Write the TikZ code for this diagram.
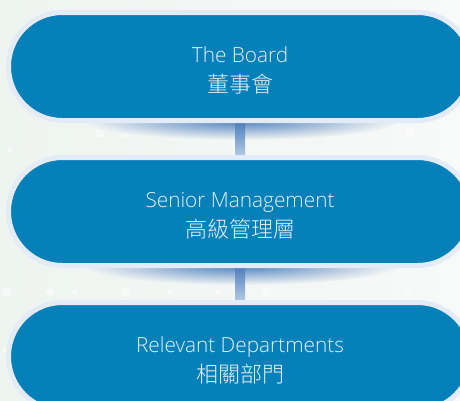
\documentclass[tikz,border=0pt]{standalone}
\usepackage{fontspec}
\setmainfont{Open Sans}[UprightFont=* Light]
\newfontfamily\cjkfont{Noto Sans CJK TC}[UprightFont=* Light]
\usetikzlibrary{calc}

\definecolor{pillblue}{HTML}{0580B9}
\definecolor{pillrim}{HTML}{E3ECF6}
\definecolor{bgtint}{HTML}{EEF4F0}
\definecolor{bgwhite}{HTML}{F8F9F9}
\definecolor{linktop}{HTML}{4F7FBD}
\definecolor{linkbot}{HTML}{B3C9E4}
\definecolor{shadowblue}{HTML}{4A7CBD}
\definecolor{captext}{HTML}{E8F1F8}

\tikzset{
    pill/.style={draw=pillrim, line width=5pt, fill=pillblue, rounded corners=54pt,
        minimum width=463pt, minimum height=108pt, inner sep=0pt},
    caption/.style={align=center, text=captext, inner sep=0pt,
        font=\fontsize{20.8}{30}\selectfont},
    bokeh/.style={fill=white, opacity=0.5}
}

\begin{document}
\begin{tikzpicture}[x=1pt, y=-1pt]
    \shade[left color=bgtint, right color=bgwhite] (0,0) rectangle (460,400);
    \useasboundingbox (0,0) rectangle (460,400);

    % faint dots in the background
    \fill[bokeh] (7,292) circle (5);
    \fill[bokeh] (50,292) circle (4);
    \fill[bokeh] (75,292) circle (3);
    \fill[bokeh] (125,292) circle (5);
    \fill[bokeh] (170,292) circle (3);
    \fill[bokeh] (218,292) circle (3);
    \fill[bokeh] (267,292) circle (5);
    \fill[bokeh] (408,292) circle (3);
    \fill[bokeh] (100,133) circle (5);
    \fill[bokeh] (125,133) circle (5);
    \fill[bokeh] (10,150) circle (3);
    \fill[bokeh] (410,133) circle (5);
    \fill[bokeh] (5,350) circle (3);

    % shadows
    \shade[inner color=shadowblue, outer color=bgtint!50!bgwhite] (240,120) ellipse (160 and 20);
    \shade[inner color=shadowblue, outer color=bgtint!50!bgwhite] (240,265) ellipse (160 and 20);

    \coordinate (boardpos) at (240,66.5);
    \coordinate (seniorpos) at (240,211.5);
    \coordinate (deptpos) at (240,356.5);

    % connectors
    \shade[top color=linktop, bottom color=linkbot] ($(boardpos)+(-5,56)$) rectangle ($(seniorpos)+(5,-56)$);
    \shade[top color=linktop, bottom color=linkbot] ($(seniorpos)+(-5,56)$) rectangle ($(deptpos)+(5,-56)$);

    \node[pill] (board) at (boardpos) {};
    \node[pill] (senior) at (seniorpos) {};
    \node[pill] (dept) at (deptpos) {};

    \node[caption] (boardtext) at ($(board.center)+(0,4.2)$) {The Board\\{\cjkfont\fontsize{22}{30}\selectfont 董事會}};
    \node[caption] (seniortext) at ($(senior.center)+(0,4.2)$) {Senior Management\\{\cjkfont\fontsize{22}{30}\selectfont 高級管理層}};
    \node[caption] (depttext) at ($(dept.center)+(0,4.2)$) {Relevant Departments\\{\cjkfont\fontsize{22}{30}\selectfont 相關部門}};
\end{tikzpicture}
\end{document}
